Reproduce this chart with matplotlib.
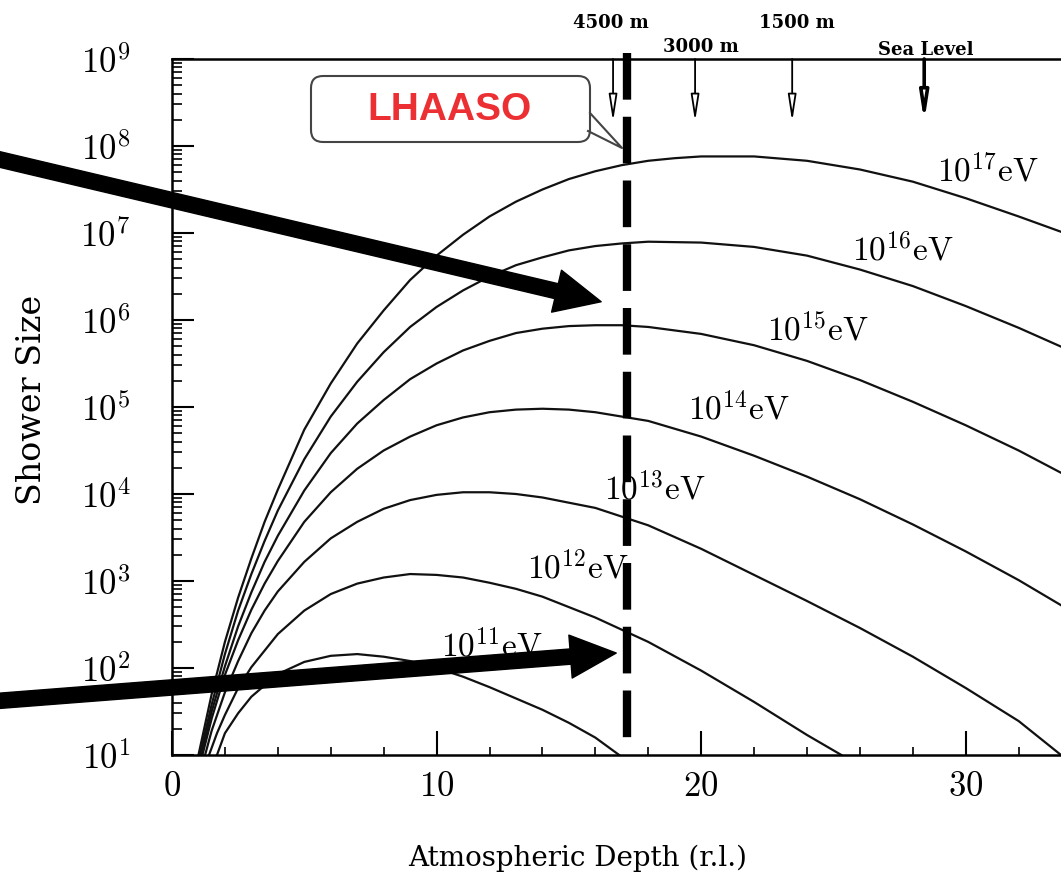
import numpy as np
import matplotlib.pyplot as plt
from matplotlib.patches import FancyBboxPatch, Polygon
from matplotlib.ticker import LogLocator, NullFormatter

plt.rcParams['mathtext.fontset'] = 'cm'

# shower curves: depth (r.l.) and log10(shower size)
DEPTH_11 = [1.7, 2, 2.5, 3, 4, 5, 6, 7, 8, 9, 10, 11, 12, 13, 14, 15, 16, 16.9]
LOGN_11 = [1.0, 1.25, 1.48, 1.67, 1.93, 2.07, 2.14, 2.16, 2.13, 2.08, 2.0, 1.9,
           1.78, 1.65, 1.52, 1.37, 1.2, 1.0]

DEPTH_12 = [1.4, 1.7, 2, 2.5, 3, 4, 5, 6, 7, 8, 9, 10, 11, 12, 13, 14, 16, 18, 20,
            22, 24, 25.3]
LOGN_12 = [1.0, 1.25, 1.46, 1.77, 2.01, 2.39, 2.66, 2.85, 2.97, 3.04, 3.08, 3.07,
           3.04, 2.98, 2.91, 2.82, 2.58, 2.3, 1.97, 1.61, 1.23, 1.0]

DEPTH_13 = [1.25, 1.5, 2, 2.5, 3, 3.5, 4, 5, 6, 7, 8, 9, 10, 11, 12, 13, 14, 16,
            18, 20, 22, 24, 26, 28, 30, 32, 33.6]
LOGN_13 = [1.0, 1.28, 1.72, 2.08, 2.4, 2.66, 2.88, 3.22, 3.49, 3.68, 3.83, 3.93,
           3.99, 4.02, 4.02, 4.0, 3.96, 3.84, 3.64, 3.37, 3.07, 2.77, 2.46, 2.13,
           1.77, 1.39, 1.0]

DEPTH_14 = [1.15, 1.5, 2, 2.5, 3, 3.5, 4, 5, 6, 7, 8, 9, 10, 11, 12, 13, 14, 15,
            16, 18, 20, 22, 24, 26, 28, 30, 32, 34]
LOGN_14 = [1.0, 1.42, 1.92, 2.32, 2.67, 2.97, 3.23, 3.68, 4.02, 4.29, 4.5, 4.66,
           4.79, 4.88, 4.94, 4.97, 4.98, 4.97, 4.94, 4.84, 4.66, 4.44, 4.2, 3.94,
           3.65, 3.34, 3.01, 2.65]

DEPTH_15 = [1.1, 1.5, 2, 2.5, 3, 3.5, 4, 5, 6, 7, 8, 9, 10, 11, 12, 13, 14, 15,
            16, 17, 18, 20, 22, 24, 26, 28, 30, 32, 34]
LOGN_15 = [1.0, 1.5, 2.02, 2.48, 2.87, 3.22, 3.52, 4.04, 4.47, 4.81, 5.08, 5.32,
           5.5, 5.65, 5.76, 5.85, 5.9, 5.93, 5.94, 5.94, 5.92, 5.84, 5.71, 5.53,
           5.31, 5.06, 4.79, 4.5, 4.18]

DEPTH_16 = [1.05, 1.5, 2, 2.5, 3, 3.5, 4, 5, 6, 7, 8, 9, 10, 11, 12, 13, 14, 15,
            16, 17, 18, 20, 22, 24, 26, 28, 30, 32, 34]
LOGN_16 = [1.0, 1.58, 2.16, 2.66, 3.08, 3.46, 3.81, 4.4, 4.89, 5.29, 5.63, 5.92,
           6.15, 6.34, 6.5, 6.63, 6.72, 6.8, 6.85, 6.88, 6.9, 6.89, 6.84, 6.74,
           6.58, 6.39, 6.16, 5.91, 5.64]

DEPTH_17 = [1.0, 1.5, 2, 2.5, 3, 3.5, 4, 5, 6, 7, 8, 9, 10, 11, 12, 13, 14, 15,
            16, 17, 18, 19, 20, 22, 24, 26, 28, 30, 32, 34]
LOGN_17 = [1.0, 1.7, 2.3, 2.81, 3.26, 3.68, 4.05, 4.74, 5.27, 5.73, 6.11, 6.46,
           6.74, 6.98, 7.19, 7.36, 7.5, 7.62, 7.71, 7.78, 7.83, 7.86, 7.88, 7.88,
           7.83, 7.73, 7.59, 7.4, 7.19, 6.97]

CURVES = [(DEPTH_11, LOGN_11), (DEPTH_12, LOGN_12), (DEPTH_13, LOGN_13),
          (DEPTH_14, LOGN_14), (DEPTH_15, LOGN_15), (DEPTH_16, LOGN_16),
          (DEPTH_17, LOGN_17)]
ENERGY_EXP = [11, 12, 13, 14, 15, 16, 17]

# where each energy label sits (depth, log10 size of its baseline)
LABEL_POS = [(10.17, 2.13), (13.4, 3.03), (16.33, 3.93), (19.5, 4.85),
             (22.5, 5.76), (25.7, 6.68), (28.9, 7.59)]

ALTITUDES = ['4500 m', '3000 m', '1500 m', 'Sea Level']
ALT_DEPTH = [16.67, 19.77, 23.44, 28.43]
ALT_LABEL_POS = [(16.6, 9.41), (20.0, 9.14), (23.6, 9.41), (28.5, 9.10)]

LHAASO_DEPTH = 17.2

W, H = 1061, 888
fig = plt.figure(figsize=(W / 100, H / 100), dpi=100)
ax = fig.add_axes([172 / W, (H - 755) / H, 1 - 172 / W, (755 - 59) / H])

for (d, lg) in CURVES:
    ax.plot(d, 10 ** np.array(lg), color='#111111', lw=1.6, zorder=2,
            solid_joinstyle='round')

for e, (lx, ly) in zip(ENERGY_EXP, LABEL_POS):
    ax.text(lx, 10 ** ly, r'$10^{%d}\mathrm{eV}$' % e, fontsize=24,
            ha='left', va='baseline', zorder=3)

# LHAASO altitude
ax.plot([LHAASO_DEPTH, LHAASO_DEPTH], [10 ** 9.07, 10 ** 1.09], color='black',
        lw=6, dashes=(5.6, 2.05), dash_capstyle='butt', clip_on=False, zorder=4)

ax.set_yscale('log')
ax.set_xlim(0, 33.6)
ax.set_ylim(10, 1e9)

ax.set_xticks([0, 10, 20, 30])
ax.set_xticklabels([r'$%d$' % v for v in [0, 10, 20, 30]])
ax.set_xticks(np.arange(2, 34, 2), minor=True)
ax.set_yticks([10.0 ** k for k in range(1, 10)])
ax.set_yticklabels([r'$10^{%d}$' % k for k in range(1, 10)])
ax.yaxis.set_minor_locator(LogLocator(base=10, subs=np.arange(2, 10), numticks=20))
ax.yaxis.set_minor_formatter(NullFormatter())
ax.tick_params(which='both', direction='in', top=False, right=False, labelsize=25)
ax.tick_params(axis='y', which='major', length=16, width=1.5, pad=30)
ax.tick_params(axis='y', which='minor', length=7, width=1.2)
ax.tick_params(axis='x', which='major', length=17, width=1.5, pad=10)
ax.tick_params(axis='x', which='minor', length=6, width=1.2)
ax.spines['right'].set_visible(False)
for s in ['left', 'bottom', 'top']:
    ax.spines[s].set_linewidth(1.8)

# altitude arrows along the top
for i, (name, d) in enumerate(zip(ALTITUDES, ALT_DEPTH)):
    lw = 2.6 if name == 'Sea Level' else 1.3
    ax.annotate('', xy=(d, 10 ** 8.28), xytext=(d, 1e9),
                arrowprops=dict(arrowstyle='-|>,head_length=1.6,head_width=0.25',
                                mutation_scale=10, lw=lw, fc='white', ec='black',
                                shrinkA=0, shrinkB=0), zorder=3)
    lx, ly = ALT_LABEL_POS[i]
    ax.text(lx, 10 ** ly, name, ha='center', va='center', fontsize=13,
            family='DejaVu Serif', weight='bold', clip_on=False)

# the two big pointers
arrow_style = 'simple,head_length=3.3,head_width=3.1,tail_width=1.1'
for tip, start in [((16.22, 10 ** 6.21), (-0.02, 0.826)),
                   ((16.79, 10 ** 2.172), (-0.02, 0.209))]:
    ax.annotate('', xy=tip, xytext=start, textcoords='figure fraction',
                arrowprops=dict(arrowstyle=arrow_style, mutation_scale=10,
                                fc='black', ec='black', shrinkA=0, shrinkB=0),
                annotation_clip=False, zorder=6)

# callout box, drawn in figure pixels
ov = fig.add_axes([0, 0, 1, 1], zorder=5)
ov.set_xlim(0, W)
ov.set_ylim(H, 0)
ov.axis('off')
ov.patch.set_alpha(0)
ov.add_patch(FancyBboxPatch((311, 76), 279, 66,
                            boxstyle='round,pad=0,rounding_size=12',
                            fc='white', ec='#444444', lw=1.5))
ov.add_patch(Polygon([(592, 113), (622, 148), (592, 131)], closed=True,
                     fc='white', ec='none'))
ov.plot([590, 622, 588], [113, 148, 131], color='#444444', lw=1.5)
ov.text(450, 110, 'LHAASO', color='#ec2f33', fontsize=28, weight='bold',
        family='Liberation Sans', ha='center', va='center')

fig.text(32 / W, 1 - 400 / H, 'Shower Size', rotation=90, ha='center',
         va='center', family='DejaVu Serif', fontsize=24)
fig.text(578 / W, 1 - 858 / H, 'Atmospheric Depth (r.l.)', ha='center',
         va='center', family='DejaVu Serif', fontsize=20)

fig.savefig('out.png', dpi=100)
